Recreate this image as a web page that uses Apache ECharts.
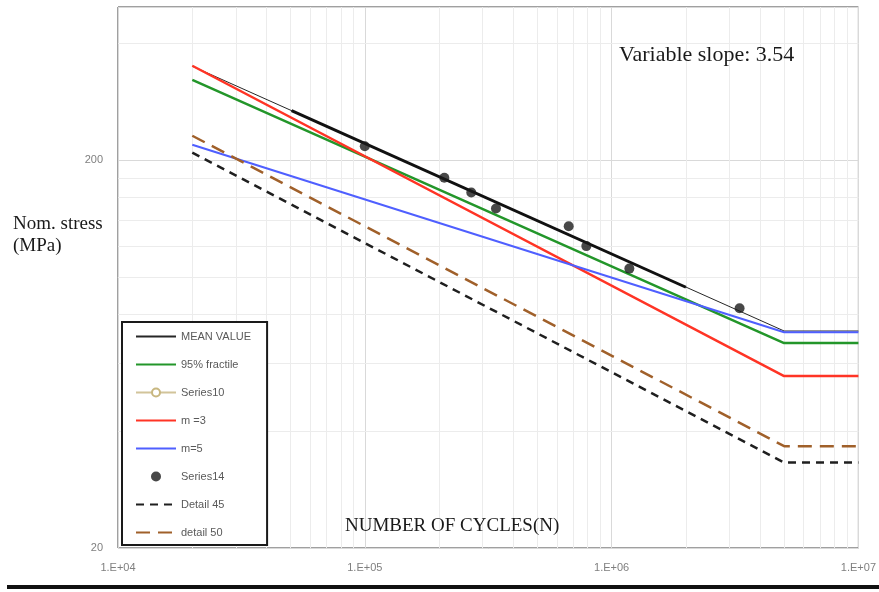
<!DOCTYPE html>
<html>
<head>
<meta charset="utf-8">
<script src="https://cdn.jsdelivr.net/npm/echarts@6/dist/echarts.min.js"></script>
<style>
html,body{margin:0;padding:0;background:#fff;}
#main{width:879px;height:592px;}
</style>
</head>
<body>
<div id="main"></div>
<script>
// S-N curves (N, stress in MPa)
var meanValue = [[2e4, 349], [5e6, 72.5], [1e7, 72.5]];
var meanFit = [[5.05e4, 268], [2.0e6, 94]];
var fractile95 = [[2e4, 322], [5e6, 67.5], [1e7, 67.5]];
var series10 = [];
var m3 = [[2e4, 350], [5e6, 55.5], [1e7, 55.5]];
var m5 = [[2e4, 219], [5e6, 72], [1e7, 72]];
var series14 = [[1.0e5, 217], [2.1e5, 180], [2.7e5, 165], [3.4e5, 150], [6.7e5, 135], [7.9e5, 120], [1.18e6, 105], [3.3e6, 83]];
var detail45 = [[2e4, 209], [5e6, 33.2], [1e7, 33.2]];
var detail50 = [[2e4, 231], [5e6, 36.6], [1e7, 36.6]];

// minor grid values
var xMinor = [2e4, 3e4, 4e4, 5e4, 6e4, 7e4, 8e4, 9e4,
              2e5, 3e5, 4e5, 5e5, 6e5, 7e5, 8e5, 9e5,
              2e6, 3e6, 4e6, 5e6, 6e6, 7e6, 8e6, 9e6];
var yMinor = [40, 60, 80, 100, 120, 140, 160, 180, 400];

var legendNames = ['MEAN VALUE', '95% fractile', 'Series10', 'm =3', 'm=5', 'Series14', 'Detail 45', 'detail 50'];
var lineOnly = ['MEAN VALUE', '95% fractile', 'm =3', 'm=5', 'Detail 45', 'detail 50'];

var myChart = echarts.init(document.getElementById('main'));

var gridLines = [];
xMinor.forEach(function(v) { gridLines.push({ xAxis: v }); });
yMinor.forEach(function(v) { gridLines.push({ yAxis: v }); });

// no marker in the legend for plain lines
var legendData = legendNames.map(function(n) {
    if (lineOnly.indexOf(n) >= 0) {
        return { name: n, itemStyle: { opacity: 0 } };
    }
    return { name: n };
});

myChart.setOption({
    animation: false,
    backgroundColor: '#fff',
    grid: {
        left: 118, right: 19, top: 7, bottom: 44,
        show: true,
        borderColor: '#404040',
        borderWidth: 1
    },
    legend: {
        data: legendData,
        orient: 'vertical',
        left: 122,
        top: 322,
        itemWidth: 40,
        itemHeight: 10,
        itemGap: 17,
        padding: [9, 16, 7, 13],
        borderColor: '#1a1a1a',
        borderWidth: 2,
        backgroundColor: '#fff',
        textStyle: {
            color: '#595959',
            fontSize: 11,
            fontFamily: 'Liberation Sans'
        }
    },
    xAxis: {
        type: 'log',
        logBase: 10,
        min: 1e4,
        max: 1e7,
        axisLine: { show: false },
        axisTick: { show: false },
        axisLabel: {
            color: '#7f7f7f',
            fontSize: 11,
            fontFamily: 'Liberation Sans',
            margin: 14,
            formatter: function(v) {
                return '1.E+0' + Math.round(Math.log10(v));
            }
        },
        splitLine: { show: true, lineStyle: { color: '#d9d9d9', width: 1 } }
    },
    yAxis: {
        type: 'log',
        logBase: 10,
        min: 20,
        max: 496,
        interval: 1,
        axisLine: { show: false },
        axisTick: { show: false },
        axisLabel: {
            color: '#7f7f7f',
            fontSize: 11,
            fontFamily: 'Liberation Sans',
            margin: 15,
            showMaxLabel: false,
            formatter: function(v) {
                return Math.round(v);
            }
        },
        splitLine: { show: true, lineStyle: { color: '#d9d9d9', width: 1 } }
    },
    graphic: [
        {
            type: 'text',
            z: 10,
            style: {
                text: 'Nom. stress\n(MPa)',
                x: 13, y: 213,
                font: '19px "Liberation Serif"',
                lineHeight: 22,
                fill: '#1a1a1a',
                align: 'left',
                verticalAlign: 'top'
            }
        },
        {
            type: 'text',
            z: 10,
            style: {
                text: 'NUMBER OF CYCLES(N)',
                x: 345, y: 526,
                font: '19px "Liberation Serif"',
                fill: '#1a1a1a',
                align: 'left',
                verticalAlign: 'middle'
            }
        },
        {
            type: 'text',
            z: 10,
            style: {
                text: 'Variable slope: 3.54',
                x: 619, y: 55,
                font: '22px "Liberation Serif"',
                fill: '#1a1a1a',
                align: 'left',
                verticalAlign: 'middle'
            }
        },
        {
            type: 'rect',
            shape: { x: 7, y: 585, width: 872, height: 4 },
            style: { fill: '#111' }
        }
    ],
    series: [
        {
            name: 'gridlines',
            type: 'line',
            data: [],
            silent: true,
            z: 1,
            markLine: {
                z: 1,
                silent: true,
                animation: false,
                symbol: ['none', 'none'],
                label: { show: false },
                emphasis: { disabled: true },
                lineStyle: { color: '#ececec', width: 1, type: 'solid' },
                data: gridLines
            }
        },
        {
            name: 'MEAN VALUE',
            type: 'line',
            data: meanValue,
            symbol: 'none',
            lineStyle: { color: '#262626', width: 1 },
            itemStyle: { color: '#262626' },
            z: 3
        },
        {
            name: 'mean fit',
            type: 'line',
            data: meanFit,
            symbol: 'none',
            lineStyle: { color: '#111', width: 3 },
            itemStyle: { color: '#111' },
            z: 3
        },
        {
            name: '95% fractile',
            type: 'line',
            data: fractile95,
            symbol: 'none',
            lineStyle: { color: '#23962a', width: 2.5 },
            itemStyle: { color: '#23962a' },
            z: 3
        },
        {
            name: 'Series10',
            type: 'line',
            data: series10,
            symbol: 'emptyCircle',
            symbolSize: 10,
            lineStyle: { color: '#d2c49a', width: 2 },
            itemStyle: { color: '#c8b780', borderWidth: 2 },
            z: 3
        },
        {
            name: 'm =3',
            type: 'line',
            data: m3,
            symbol: 'none',
            lineStyle: { color: '#ff3425', width: 2.5 },
            itemStyle: { color: '#ff3425' },
            z: 3
        },
        {
            name: 'm=5',
            type: 'line',
            data: m5,
            symbol: 'none',
            lineStyle: { color: '#4f5fff', width: 2 },
            itemStyle: { color: '#4f5fff' },
            z: 3
        },
        {
            name: 'Series14',
            type: 'scatter',
            data: series14,
            symbol: 'circle',
            symbolSize: 10,
            itemStyle: { color: '#1a1a1a' },
            z: 4
        },
        {
            name: 'Detail 45',
            type: 'line',
            data: detail45,
            symbol: 'none',
            lineStyle: { color: '#1f1f1f', width: 2.5, type: [8, 6] },
            itemStyle: { color: '#1f1f1f' },
            z: 3
        },
        {
            name: 'detail 50',
            type: 'line',
            data: detail50,
            symbol: 'none',
            lineStyle: { color: '#a0602a', width: 2.5, type: [14, 8] },
            itemStyle: { color: '#a0602a' },
            z: 3
        }
    ]
});
</script>
</body>
</html>
